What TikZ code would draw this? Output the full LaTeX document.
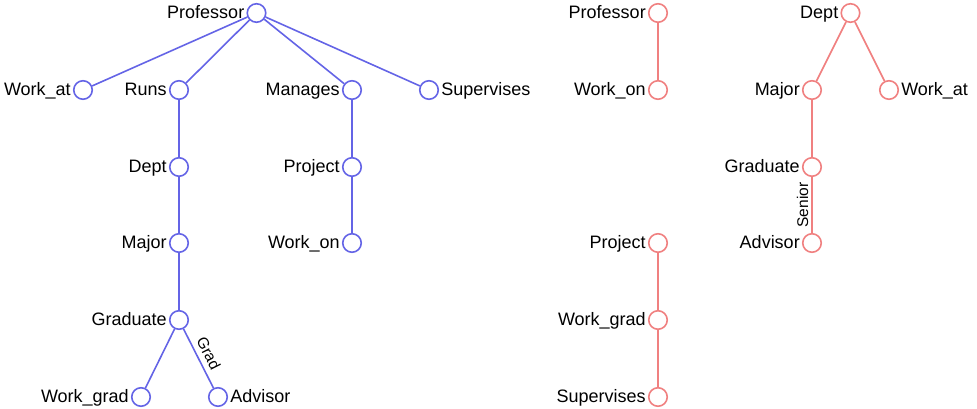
\documentclass[tikz,border=0pt]{standalone}
\usepackage{fontspec}
\setmainfont{Liberation Sans}
\definecolor{treeblue}{RGB}{100,100,230}
\definecolor{treered}{RGB}{240,128,128}
\tikzset{
  vtx/.style={circle,draw,line width=1.6pt,minimum size=18.5pt,inner sep=0pt},
  bluevtx/.style={vtx,draw=treeblue},
  redvtx/.style={vtx,draw=treered},
  every label/.style={inner sep=2pt,text height=13pt,text depth=2.5pt,font=\fontsize{18}{20}\selectfont},
  edgelabel/.style={sloped,above,inner sep=3pt,font=\fontsize{15.5}{17}\selectfont}
}
\begin{document}
\begin{tikzpicture}[x=1pt,y=-1pt]
  \useasboundingbox (0,0) rectangle (977,409);
  % first tree
  \draw
    (256.5,13) node[bluevtx,label=left:Professor] (prof){}
    (83,90) node[bluevtx,label=left:Work\_at] (workat){}
    (179,90) node[bluevtx,label=left:Runs] (runs){}
    (352,90) node[bluevtx,label=left:Manages] (manages){}
    (429,90) node[bluevtx,label=right:Supervises] (superv){}
    (179,167) node[bluevtx,label=left:Dept] (dept){}
    (352,167) node[bluevtx,label=left:Project] (project){}
    (179,243) node[bluevtx,label=left:Major] (major){}
    (352,243) node[bluevtx,label=left:Work\_on] (workon){}
    (179,320) node[bluevtx,label=left:Graduate] (grad){}
    (141,397) node[bluevtx,label=left:Work\_grad] (workgrad){}
    (218,397) node[bluevtx,label=right:Advisor] (advisor){};
  \begin{scope}[-,treeblue,line width=1.6pt]
    \draw (prof) to (workat);
    \draw (prof) to (runs);
    \draw (prof) to (manages);
    \draw (prof) to (superv);
    \draw (runs) to (dept);
    \draw (dept) to (major);
    \draw (major) to (grad);
    \draw (grad) to (workgrad);
    \draw (grad) to node[edgelabel,inner sep=5pt,text=black]{Grad} (advisor);
    \draw (manages) to (project);
    \draw (project) to (workon);
  \end{scope}
  % second tree
  \draw
    (658,13) node[redvtx,label=left:Professor] (prof2){}
    (658,90) node[redvtx,label=left:Work\_on] (workon2){}
    (658,243) node[redvtx,label=left:Project] (project2){}
    (658,320) node[redvtx,label=left:Work\_grad] (workgrad2){}
    (658,397) node[redvtx,label=left:Supervises] (superv2){};
  % third tree
  \draw
    (850.5,13) node[redvtx,label=left:Dept] (dept3){}
    (812,90) node[redvtx,label=left:Major] (major3){}
    (889,90) node[redvtx,label=right:Work\_at] (workat3){}
    (812,167) node[redvtx,label=left:Graduate] (grad3){}
    (812,243) node[redvtx,label=left:Advisor] (advisor3){};
  \begin{scope}[-,treered,line width=1.6pt]
    \draw (prof2) to (workon2);
    \draw (project2) to (workgrad2);
    \draw (workgrad2) to (superv2);
    \draw (dept3) to (major3);
    \draw (dept3) to (workat3);
    \draw (major3) to (grad3);
    \draw (advisor3) to node[edgelabel,text=black]{Senior} (grad3);
  \end{scope}
\end{tikzpicture}
\end{document}
